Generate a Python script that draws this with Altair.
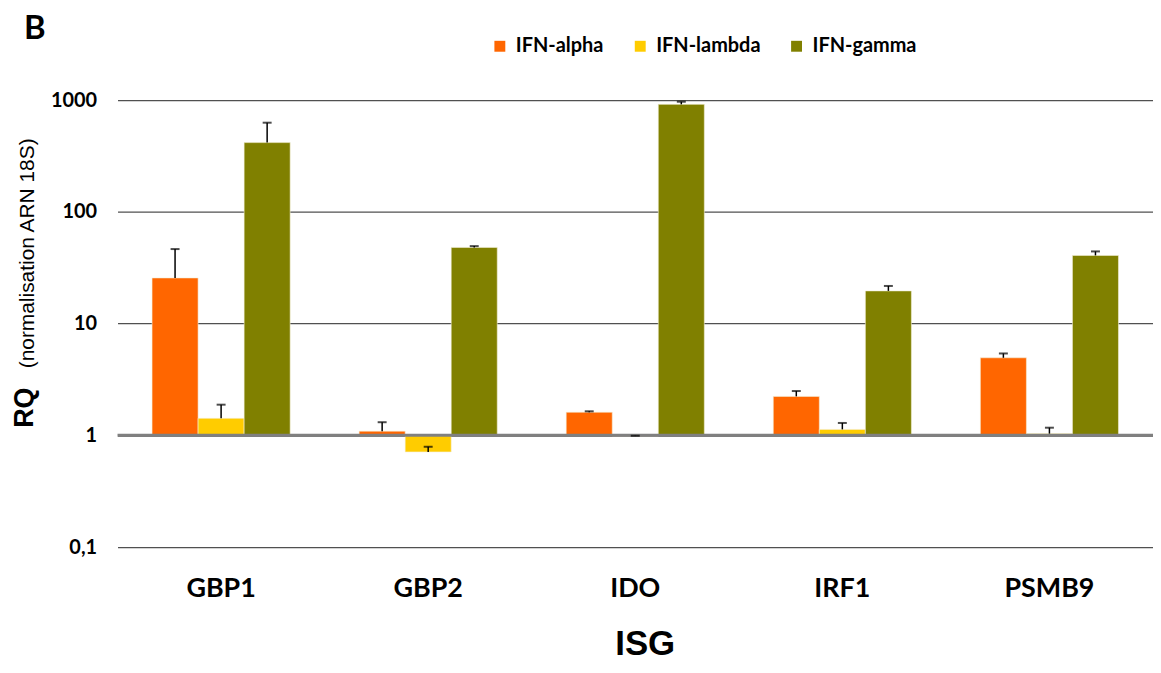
import altair as alt
import pandas as pd

genes = ["GBP1", "GBP2", "IDO", "IRF1", "PSMB9"]
series = ["IFN-alpha", "IFN-lambda", "IFN-gamma"]
alpha = [25.6, 1.09, 1.61, 2.23, 4.94]
alpha_err = [20.8, 0.22, 0.03, 0.26, 0.46]
lam = [1.42, 0.71, 0.985, 1.13, 1.035]
lam_err = [0.46, 0.08, 0.006, 0.16, 0.135]
gamma = [416, 48, 915, 19.6, 40.7]
gamma_err = [211, 1.3, 51, 2.1, 3.5]
colors = ["#FF6600", "#FFCC00", "#808000"]
y_ticks = [0.1, 1, 10, 100, 1000]

rows = []
for s, vals, errs in zip(series, [alpha, lam, gamma], [alpha_err, lam_err, gamma_err]):
    for g, v, e in zip(genes, vals, errs):
        rows.append({"gene": g, "series": s, "value": v, "err": e, "base": 1.0})
df = pd.DataFrame(rows)

W, H = 1040, 449

xenc = alt.X(
    "gene:N", sort=genes,
    scale=alt.Scale(paddingInner=0.333, paddingOuter=0.1667),
    axis=alt.Axis(title=None, labelFont="Lato", labelFontWeight="bold", labelFontSize=27,
                  labelColor="black", labelPadding=29, ticks=False, domain=False, labelAngle=0),
)
xoff = alt.XOffset("series:N", sort=series, scale=alt.Scale(paddingInner=0, paddingOuter=0))
yscale = alt.Scale(type="log", domain=[0.1, 1000])

base = alt.Chart(df)

bars = base.mark_bar(stroke="#f4f0d8", strokeWidth=0.6).encode(
    x=xenc,
    xOffset=xoff,
    y=alt.Y("value:Q", scale=yscale,
            axis=alt.Axis(values=y_ticks, title=None, grid=True, gridColor="#505050", gridWidth=1.2,
                          ticks=False, domain=False, labelFont="Lato", labelFontWeight="bold",
                          labelFontSize=20, labelColor="black", labelPadding=21,
                          labelExpr="datum.value < 0.5 ? '0,1' : format(datum.value, 'd')")),
    y2="base:Q",
    color=alt.Color("series:N", sort=series, scale=alt.Scale(domain=series, range=colors),
                    legend=alt.Legend(title=None, orient="none", legendX=374, legendY=-64,
                                      direction="horizontal", symbolType="square", symbolSize=120,
                                      symbolStrokeWidth=0, labelFont="Lato", labelFontWeight="bold",
                                      labelFontSize=20, labelColor="black", columnPadding=26,
                                      symbolOffset=0, labelOffset=6)),
)

baseline = alt.Chart(pd.DataFrame({"b": [1.0]})).mark_rule(color="#808080", strokeWidth=3).encode(
    y=alt.Y("b:Q", scale=yscale)
)

err = base.transform_calculate(upper="datum.value + datum.err").mark_rule(
    color="black", strokeWidth=1.5).encode(
    x=xenc, xOffset=xoff, y=alt.Y("value:Q", scale=yscale), y2="upper:Q")

caps = base.transform_calculate(upper="datum.value + datum.err").mark_tick(
    color="black", thickness=2, size=9).encode(
    x=xenc, xOffset=xoff, y=alt.Y("upper:Q", scale=yscale))

def label(txt, x, y, size, weight="normal", font="Liberation Sans", angle=0):
    kw = dict(text=txt, fontSize=size, fontWeight=weight, font=font, color="black",
              align="center", baseline="middle")
    if angle:
        kw["angle"] = angle
    return alt.Chart(pd.DataFrame({"t": [txt]})).mark_text(**kw).encode(
        x=alt.value(x), y=alt.value(y))

tB = label("B", -83, -71, 33, "bold", "Lato")
tRQ = label("RQ", -93, 309, 27, "bold", angle=270)
tNorm = label("(normalisation ARN 18S)", -90, 154, 21, angle=270)
tISG = label("ISG", 530, 546, 35, "bold")

chart = alt.layer(bars, baseline, err, caps, tB, tRQ, tNorm, tISG).properties(
    width=W, height=H,
    autosize=alt.AutoSizeParams(type="none"),
    padding={"left": 110, "top": 91, "right": 0, "bottom": 117},
).configure_view(stroke=None)

chart.save("out.html", embed_options={"renderer": "svg", "actions": False})
